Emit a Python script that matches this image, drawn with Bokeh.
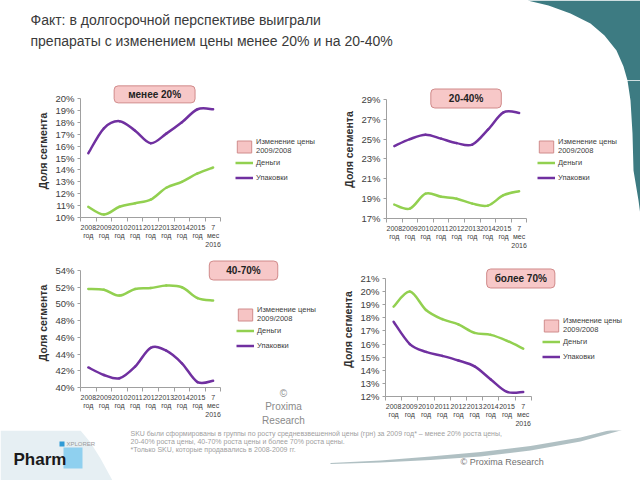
from bokeh.plotting import figure
from bokeh.layouts import column, row
from bokeh.models import Range1d, FixedTicker, Legend, LegendItem, Label, PrintfTickFormatter
from bokeh.embed import file_html
from bokeh.resources import INLINE

# ---------------- data ----------------
periods = ["2008\nгод", "2009\nгод", "2010\nгод", "2011\nгод", "2012\nгод",
           "2013\nгод", "2014\nгод", "2015\nгод", "7\nмес\n2016"]

lt20_money = [10.9, 10.25, 10.9, 11.2, 11.5, 12.5, 13.0, 13.7, 14.2]
lt20_packs = [15.4, 17.5, 18.1, 17.3, 16.25, 17.05, 18.0, 19.1, 19.1]

p20_40_money = [18.4, 18.0, 19.5, 19.2, 19.0, 18.5, 18.3, 19.35, 19.75]
p20_40_packs = [24.3, 25.0, 25.45, 25.05, 24.6, 24.45, 25.95, 27.7, 27.65]

p40_70_money = [51.8, 51.7, 51.0, 51.8, 51.9, 52.2, 52.0, 50.7, 50.4]
p40_70_packs = [42.4, 41.5, 41.1, 42.5, 44.75, 44.4, 42.9, 40.65, 40.8]

gt70_money = [18.85, 20.0, 18.6, 17.9, 17.5, 16.85, 16.7, 16.25, 15.65]
gt70_packs = [17.7, 16.0, 15.4, 15.1, 14.75, 14.3, 13.3, 12.35, 12.35]

legend_labels = ["Изменение цены\n2009/2008", "Деньги", "Упаковки"]
y_title = "Доля сегмента"

GREEN = "#92d050"
PURPLE = "#7030a0"
AXIS = "#a0a0a0"
TEAL = "#3d7b82"
FONT = "Liberation Sans"
NAN = float("nan")


def bezier_segments(xs, ys):
    n = len(xs)
    out = dict(x0=[], y0=[], x1=[], y1=[], cx0=[], cy0=[], cx1=[], cy1=[])
    for i in range(n - 1):
        pm = i - 1 if i > 0 else i
        pp = i + 2 if i + 2 < n else i + 1
        out["x0"].append(xs[i]); out["y0"].append(ys[i])
        out["x1"].append(xs[i + 1]); out["y1"].append(ys[i + 1])
        out["cx0"].append(xs[i] + (xs[i + 1] - xs[pm]) / 6.0)
        out["cy0"].append(ys[i] + (ys[i + 1] - ys[pm]) / 6.0)
        out["cx1"].append(xs[i + 1] - (xs[pp] - xs[i]) / 6.0)
        out["cy1"].append(ys[i + 1] - (ys[pp] - ys[i]) / 6.0)
    return out


def blank(width, height, x0, x1, y_top, y_bottom, margin=None):
    kw = {} if margin is None else {"margin": margin}
    p = figure(width=width, height=height, x_range=Range1d(x0, x1),
               y_range=Range1d(y_bottom, y_top), output_backend="svg",
               toolbar_location=None, min_border=0, frame_align=False, **kw)
    p.axis.visible = False
    p.grid.visible = False
    p.outline_line_color = None
    p.background_fill_alpha = 0
    p.border_fill_alpha = 0
    return p


def make_chart(width, height, left, right, top, bottom, ymin, ytop, ystep, yend,
               px_per, money, packs, box_text, box_x, box_y, box_pad, leg_loc):
    frame_w = width - left - right
    xend = 0.5 + frame_w / px_per
    p = figure(width=width, height=height, x_range=Range1d(0.5, xend),
               y_range=Range1d(ymin, yend), output_backend="svg",
               toolbar_location=None, min_border_left=left, min_border_right=right,
               min_border_top=top, min_border_bottom=bottom, frame_align=False)
    p.outline_line_color = None
    p.grid.visible = False
    p.background_fill_color = None
    p.border_fill_color = None

    xa = p.xaxis[0]
    xs = list(range(1, len(periods) + 1))
    xa.ticker = FixedTicker(ticks=xs, minor_ticks=[i + 0.5 for i in range(0, len(periods) + 1)])
    xa.major_label_overrides = {i: lab for i, lab in zip(xs, periods)}
    xa.bounds = (0.5, len(periods) + 0.5)
    xa.major_tick_out = 0
    xa.major_tick_in = 0
    xa.minor_tick_out = 4
    xa.minor_tick_in = 0
    xa.axis_line_color = AXIS
    xa.minor_tick_line_color = AXIS
    xa.major_label_standoff = 2
    xa.major_label_text_font_size = "7px"
    xa.major_label_text_font = FONT
    xa.major_label_text_color = "#404040"
    xa.major_label_text_line_height = 1.25

    ya = p.yaxis[0]
    ya.ticker = FixedTicker(ticks=list(range(ymin, ytop + 1, ystep)))
    ya.formatter = PrintfTickFormatter(format="%d%%")
    ya.bounds = (ymin, ytop)
    ya.major_tick_out = 3
    ya.major_tick_in = 0
    ya.minor_tick_line_color = None
    ya.axis_line_color = AXIS
    ya.major_tick_line_color = AXIS
    ya.major_label_standoff = 3
    ya.major_label_text_font_size = "9.5px"
    ya.major_label_text_font = FONT
    ya.major_label_text_color = "#404040"
    ya.axis_label = y_title
    ya.axis_label_text_font = FONT
    ya.axis_label_text_font_size = "10.5px"
    ya.axis_label_text_font_style = "bold"
    ya.axis_label_text_color = "#303030"
    ya.axis_label_standoff = 3

    for vals, col in ((money, GREEN), (packs, PURPLE)):
        seg = bezier_segments(xs, vals)
        p.bezier(source=seg, x0="x0", y0="y0", x1="x1", y1="y1", cx0="cx0", cy0="cy0",
                 cx1="cx1", cy1="cy1", line_color=col, line_width=2.5, line_cap="round")

    # legend proxies (no visible marks: NaN positions)
    r_sq = p.rect(x=[NAN], y=[NAN], width=1, height=1, fill_color="#f6c4c4",
                  line_color="#d08c8c")
    r_g = p.line(x=[NAN, NAN], y=[NAN, NAN], line_color=GREEN, line_width=2.5)
    r_p = p.line(x=[NAN, NAN], y=[NAN, NAN], line_color=PURPLE, line_width=2.5)
    leg = Legend(items=[LegendItem(label=legend_labels[0], renderers=[r_sq]),
                        LegendItem(label=legend_labels[1], renderers=[r_g]),
                        LegendItem(label=legend_labels[2], renderers=[r_p])],
                 location=leg_loc, glyph_width=18, glyph_height=15, label_standoff=3,
                 spacing=0, padding=0, margin=0, border_line_color=None,
                 background_fill_alpha=0, label_text_font_size="7.5px",
                 label_text_font=FONT, label_text_color="#404040", label_height=10)
    p.add_layout(leg)

    p.add_layout(Label(x=box_x, y=box_y, text=box_text, text_align="center",
                       text_baseline="middle", text_font=FONT, text_font_size="10px",
                       text_font_style="bold", text_color="#222222",
                       background_fill_color="#f7c8c8", border_line_color="#d08a8a",
                       border_line_width=1, padding=box_pad, border_radius=4))
    return p


# ---------------- header ----------------
hdr = blank(640, 80, 0, 640, 0, 80)
hdr.patch([527, 548, 570, 590, 604, 616, 623, 627, 640, 640],
          [0, 5, 13, 23, 35, 50, 66, 80, 80, 0], color=TEAL, line_color=None)
hdr.add_layout(Label(x=30, y=19, text="Факт: в долгосрочной перспективе выиграли",
                     text_baseline="middle", text_font=FONT, text_font_size="14px",
                     text_color="#3a3a3a"))
hdr.add_layout(Label(x=30, y=40, text="препараты с изменением цены менее 20% и на 20-40%",
                     text_baseline="middle", text_font=FONT, text_font_size="14px",
                     text_color="#3a3a3a"))

# ---------------- charts ----------------
c1 = make_chart(328, 172, 80, 4, 4, 35, 10, 20, 1, 21.18, 15.6,
                lt20_money, lt20_packs, "менее 20%", 5.25, 20.35, (14, 3), (155, 32))
c2 = make_chart(312, 172, 58, 0, 0, 34, 17, 29, 2, 30.915, 15.6,
                p20_40_money, p20_40_packs, "20-40%", 5.6, 29.1, (18, 4), (151, 33))
c3 = make_chart(328, 178, 80, 4, 6, 43, 40, 54, 2, 55.44, 15.6,
                p40_70_money, p40_70_packs, "40-70%", 10.95, 54.0, (17, 4), (156, 34))
c4 = make_chart(312, 178, 57, 2, 10, 34, 12, 21, 1, 22.22, 16.2,
                gt70_money, gt70_packs, "более 70%", 8.85, 21.0, (8, 4), (157, 32))

# teal edge decoration at the right edge of the upper-right panel (page pixels -> c2 units)
edge_px = [(627, 80), (630, 100), (632, 133), (633, 170), (638, 200), (640, 215), (640, 80)]
c2.patch([0.5 + (X - 386) / 15.6 for X, Y in edge_px],
         [17 + (218 - Y) / 9.92 for X, Y in edge_px], color=TEAL, line_color=None,
         level="underlay")

# transparent overlay on the lower-left chart for the copyright note
cpy = blank(80, 178, 248, 328, 252, 430, margin=(0, 0, 0, -80))
cpy.add_layout(Label(x=283, y=387, text="©\nProxima\nResearch", text_align="center",
                     text_baseline="top", text_font=FONT, text_font_size="10px",
                     text_color="#8a8a8a", text_line_height=1.25))

# ---------------- footer ----------------
ftr = blank(640, 50, 0, 640, 430, 480)
ftr.patch([0, 80, 90, 100, 112, 0], [430, 430, 442, 458, 480, 480],
          color="#e6eff3", line_color=None)
ftr.patch([330, 380, 430, 480, 530, 580, 620, 640, 640, 620, 580, 530, 480, 430, 380, 330],
          [462.5, 460, 456, 451.5, 445.5, 437, 427, 420, 422, 430, 441, 450, 456, 459.5, 462, 463.5],
          color="#6f8c92", alpha=0.55, line_color=None)
note_lines = ["SKU были сформированы в группы по росту средневзвешенной цены (грн) за 2009 год* – менее 20% роста цены,",
              "20-40% роста цены, 40-70% роста цены и более 70% роста цены.",
              "*Только SKU, которые продавались в 2008-2009 гг."]
for i, t in enumerate(note_lines):
    ftr.add_layout(Label(x=130, y=433 + 8 * i, text=t, text_baseline="middle",
                         text_font=FONT, text_font_size="7px", text_color="#a0a0a0"))
ftr.quad(left=[63], right=[82], top=[447], bottom=[468], color="#8fd0ef", line_color=None)
ftr.quad(left=[59], right=[64], top=[441], bottom=[446], color="#2f9bd6", line_color=None)
ftr.add_layout(Label(x=66, y=443, text="XPLORER", text_baseline="middle", text_font=FONT,
                     text_font_size="6px", text_color="#9a9a9a"))
ftr.add_layout(Label(x=13, y=459, text="Pharm", text_baseline="middle", text_font=FONT,
                     text_font_size="17px", text_font_style="bold", text_color="#1a1a1a"))
ftr.add_layout(Label(x=460, y=461, text="© Proxima Research", text_baseline="middle",
                     text_font=FONT, text_font_size="9px", text_color="#707070"))

layout = column(hdr, row(c1, c2), row(c3, cpy, c4), ftr)
open("out.html", "w").write(file_html(layout, INLINE))
